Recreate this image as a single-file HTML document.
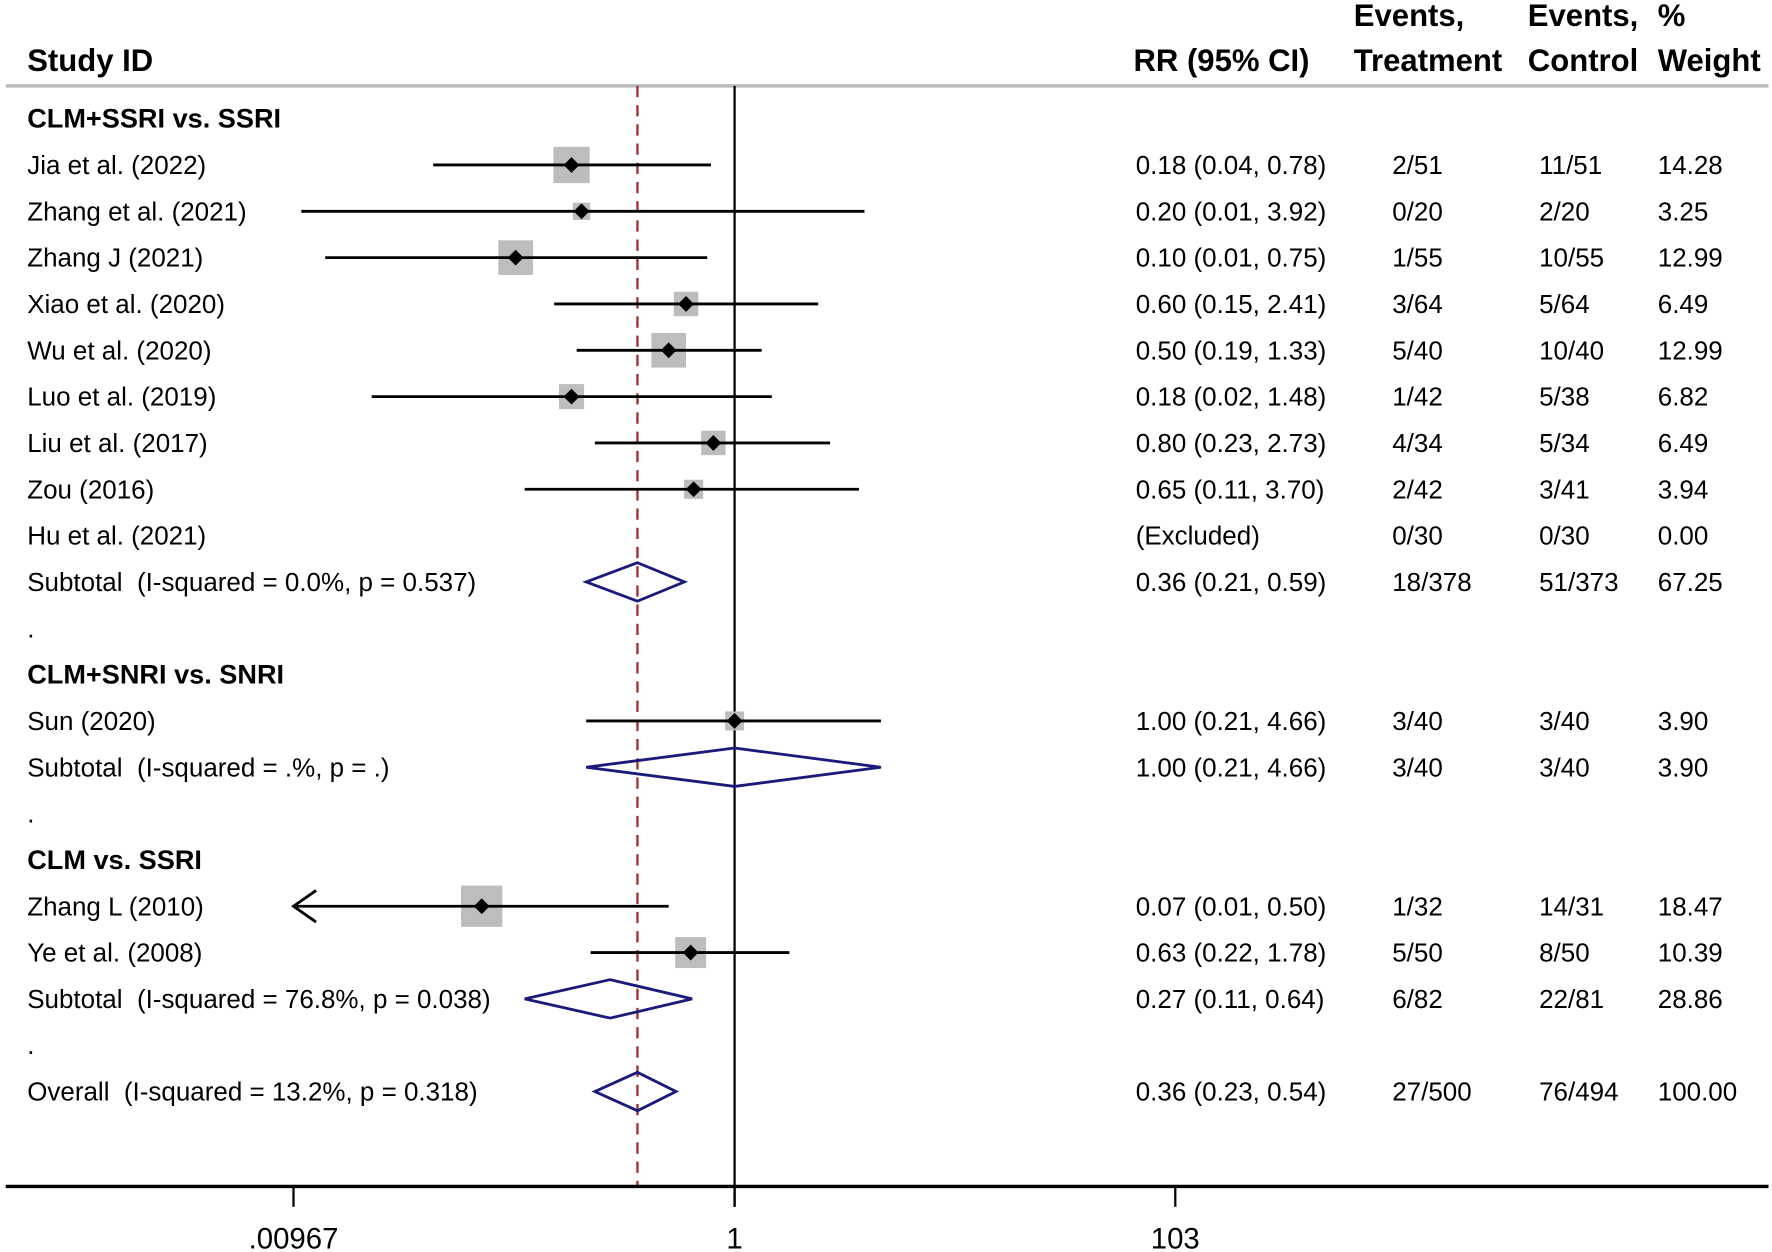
<!DOCTYPE html>
<html><head><meta charset="utf-8"><style>
html,body{margin:0;padding:0;background:#fff}
svg{display:block}
text{font-family:"Liberation Sans",Arial,sans-serif;font-size:23px;fill:#000;white-space:pre}
.b{font-weight:bold;font-size:24px}
.hd{font-weight:bold;font-size:27.5px}
</style></head><body>
<svg id="chart" width="1772" height="1252" viewBox="0 0 1568 1108" xmlns="http://www.w3.org/2000/svg" xml:space="preserve">
<g id="g"></g>
</svg>
<script>
const labels=["CLM+SSRI vs. SSRI","Jia et al. (2022)","Zhang et al. (2021)","Zhang J (2021)","Xiao et al. (2020)","Wu et al. (2020)","Luo et al. (2019)","Liu et al. (2017)","Zou (2016)","Hu et al. (2021)","Subtotal  (I-squared = 0.0%, p = 0.537)",".","CLM+SNRI vs. SNRI","Sun (2020)","Subtotal  (I-squared = .%, p = .)",".","CLM vs. SSRI","Zhang L (2010)","Ye et al. (2008)","Subtotal  (I-squared = 76.8%, p = 0.038)",".","Overall  (I-squared = 13.2%, p = 0.318)"];
const kinds=["h","s","s","s","s","s","s","s","s","x","d","t","h","s","d","t","h","s","s","d","t","d"];
const rr=[null,0.18,0.20,0.10,0.60,0.50,0.18,0.80,0.65,null,0.36,null,null,1.00,1.00,null,null,0.07,0.63,0.27,null,0.36];
const lo=[null,0.042,0.0105,0.0135,0.15,0.19,0.022,0.23,0.11,null,0.21,null,null,0.21,0.21,null,null,0.009,0.22,0.11,null,0.23];
const hi=[null,0.78,3.92,0.75,2.41,1.33,1.48,2.73,3.70,null,0.59,null,null,4.66,4.66,null,null,0.50,1.78,0.64,null,0.54];
const rrText=["","0.18 (0.04, 0.78)","0.20 (0.01, 3.92)","0.10 (0.01, 0.75)","0.60 (0.15, 2.41)","0.50 (0.19, 1.33)","0.18 (0.02, 1.48)","0.80 (0.23, 2.73)","0.65 (0.11, 3.70)","(Excluded)","0.36 (0.21, 0.59)","","","1.00 (0.21, 4.66)","1.00 (0.21, 4.66)","","","0.07 (0.01, 0.50)","0.63 (0.22, 1.78)","0.27 (0.11, 0.64)","","0.36 (0.23, 0.54)"];
const evT=["","2/51","0/20","1/55","3/64","5/40","1/42","4/34","2/42","0/30","18/378","","","3/40","3/40","","","1/32","5/50","6/82","","27/500"];
const evC=["","11/51","2/20","10/55","5/64","10/40","5/38","5/34","3/41","0/30","51/373","","","3/40","3/40","","","14/31","8/50","22/81","","76/494"];
const weight=["","14.28","3.25","12.99","6.49","12.99","6.82","6.49","3.94","0.00","67.25","","","3.90","3.90","","","18.47","10.39","28.86","","100.00"];
const wNum=[0,14.28,3.25,12.99,6.49,12.99,6.82,6.49,3.94,0,67.25,0,0,3.90,3.90,0,0,18.47,10.39,28.86,0,100];
const ticks=[0.00967,1,103];
const tickLabels=[".00967","1","103"];
const overall=0.36;

const NS="http://www.w3.org/2000/svg";
const g=document.getElementById('g');
const xS=v=>650+84.15*Math.log(v);
const xMin=0.00967;
const yRow=i=>105+41*i;
function el(t,a,p){const e=document.createElementNS(NS,t);for(const k in a)e.setAttribute(k,a[k]);(p||g).appendChild(e);return e;}
function txt(s,x,y,cls,name,anchor){
  const t=el('text',{x:x,y:y});
  if(cls)t.setAttribute('class',cls);
  if(anchor)t.setAttribute('text-anchor',anchor);
  t.textContent=s;
  
  
  return t;
}
txt("Study ID",24,63,"hd","header-study-id");
txt("RR (95% CI)",1003,63,"hd","header-rr");
txt("Events,",1198,23,"hd","header-events-treatment-1");
txt("Treatment",1198,63,"hd","header-events-treatment-2");
txt("Events,",1352,23,"hd","header-events-control-1");
txt("Control",1352,63,"hd","header-events-control-2");
txt("%",1467,23,"hd","header-weight-1");
txt("Weight",1467,63,"hd","header-weight-2");
let hl=el('line',{x1:5,x2:1565,y1:76,y2:76,stroke:'#bbb','stroke-width':3});


let nl=el('line',{x1:xS(1),x2:xS(1),y1:76,y2:1068,stroke:'#000','stroke-width':2});


let ol=el('line',{x1:xS(overall),x2:xS(overall),y1:76,y2:1050,stroke:'#a3282e','stroke-width':2,'stroke-dasharray':'10,7'});


let ax=el('line',{x1:5,x2:1565,y1:1050,y2:1050,stroke:'#000','stroke-width':3});


ticks.forEach((v,i)=>{
  let tk=el('line',{x1:xS(v),x2:xS(v),y1:1050,y2:1068,stroke:'#000','stroke-width':2});
  
  
  txt(tickLabels[i],xS(v),1105,"","x-tick-label","middle").setAttribute('style','font-size:26px');
});
labels.forEach((lab,i)=>{
  const y=yRow(i);
  const k=kinds[i];
  txt(lab,24,y+8,k==="h"?"b":"",k==="h"?"subgroup-heading":"row-label");
  if(rrText[i])txt(rrText[i],1005,y+8,"","rr-ci-text");
  if(evT[i])txt(evT[i],1232,y+8,"","events-treatment");
  if(evC[i])txt(evC[i],1362,y+8,"","events-control");
  if(weight[i])txt(weight[i],1467,y+8,"","weight-text");
  if(k==="s"){
    const s=8.5*Math.sqrt(wNum[i]);
    const bx=el('rect',{x:xS(rr[i])-s/2,y:y-s/2,width:s,height:s,fill:'#bdbdbd'});
    
    
    const clipped=lo[i]<xMin;
    const x1=clipped?xS(xMin):xS(lo[i]);
    const ci=el('line',{x1:x1,x2:xS(hi[i]),y1:y,y2:y,stroke:'#000','stroke-width':2.5});
    
    
    if(clipped){
      const ar=el('polyline',{points:`${x1+20},${y-14} ${x1},${y} ${x1+20},${y+14}`,fill:'none',stroke:'#000','stroke-width':2.5});
      
      
    }
    const c=xS(rr[i]);
    const pt=el('polygon',{points:`${c},${y-7} ${c+7},${y} ${c},${y+7} ${c-7},${y}`,fill:'#000'});
    
    
  }
  if(k==="d"){
    const c=xS(rr[i]),a=xS(lo[i]),b=xS(hi[i]);
    const d=el('polygon',{points:`${a},${y} ${c},${y-17} ${b},${y} ${c},${y+17}`,fill:'none',stroke:'#1a1a7a','stroke-width':2.5});
    
    
  }
});
</script>
</body></html>
